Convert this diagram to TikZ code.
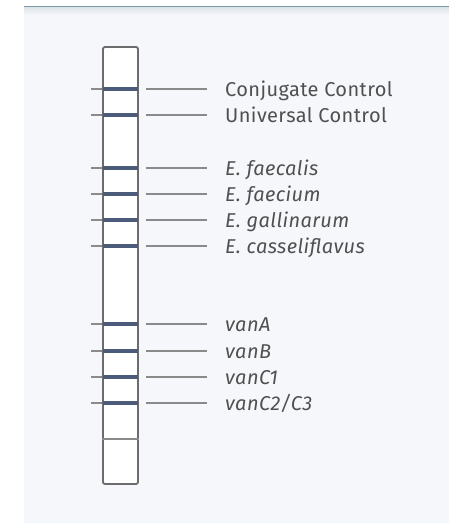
\documentclass[tikz,border=0pt]{standalone}
\usepackage{fontspec}
\setsansfont{Fira Sans}[LetterSpace=2]
\usetikzlibrary{positioning}
\definecolor{panel}{HTML}{F6F7FB}
\definecolor{topline}{HTML}{7C9AAC}
\definecolor{bandcol}{HTML}{4C5B7A}
\definecolor{txtcol}{HTML}{505050}
\definecolor{leadcol}{HTML}{8A8A8A}

\begin{document}
\begin{tikzpicture}[x=1pt,y=-1pt,
    band/.style={draw=bandcol, line width=4pt},
    lead/.style={draw=leadcol, line width=1.1pt},
    lbl/.style={anchor=base west, text=txtcol, inner sep=0pt,
                font=\sffamily\fontsize{20}{20}\selectfont}]
    \useasboundingbox (0,0) rectangle (449,527);
    % panel and rules
    \fill[panel] (24,7) rectangle (449,522);
    \fill[top color=topline!25, bottom color=panel] (24,8) rectangle (449,15);
    \draw[topline, line width=1.6pt] (24,6.5) -- (449,6.5);
    \draw[cyan!8, line width=1pt] (24,522) -- (449,522);
    % test strip
    \node[draw=gray!85!black, line width=1.8pt, rounded corners=2pt, fill=white,
          minimum width=35pt, minimum height=437pt, inner sep=0pt] (strip) at (120.5,265.5) {};
    % plain line near the bottom
    \coordinate (cw) at (strip.west |- 0,439);
    \draw[leadcol, line width=1.2pt] (cw) -- (cw -| strip.east);
    % bands, leads and labels
    \foreach \y/\txt [count=\i] in {89/Conjugate Control, 115/Universal Control,
        168/\textit{E. faecalis}, 194/\textit{E. faecium},
        220/\textit{E. gallinarum}, 246/\textit{E. casseliflavus},
        324/\textit{vanA}, 351/\textit{vanB}, 377/\textit{vanC1},
        403/{\textit{vanC2/C3}}} {
        \coordinate (bw\i) at (strip.west |- 0,\y);
        \coordinate (be\i) at (strip.east |- 0,\y);
        \node[lbl] (l\i) at (225,\y+7) {\txt};
        \draw[lead] ([xshift=-11pt]bw\i) -- (bw\i);
        \draw[lead] ([xshift=7pt]be\i) -- ([xshift=-18pt]l\i.west |- be\i);
        \draw[band] ([xshift=1pt]bw\i) -- ([xshift=-1pt]be\i);
    }
\end{tikzpicture}
\end{document}
